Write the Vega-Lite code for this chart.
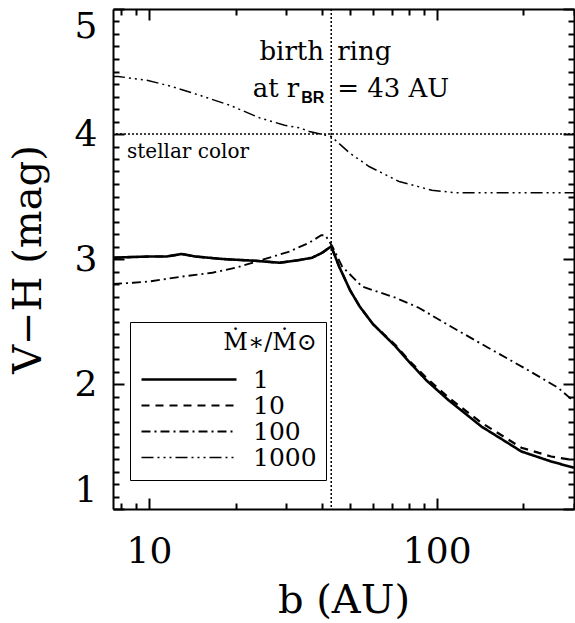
{
  "$schema": "https://vega.github.io/schema/vega-lite/v6.json",
  "width": 461,
  "height": 500,
  "autosize": {"type": "none"},
  "padding": {"left": 113, "top": 9, "right": 1, "bottom": 114},
  "background": "white",
  "config": {"view": {"stroke": null}, "axis": {"grid": false}},
  "resolve": {"axis": {"x": "independent", "y": "independent"}},
  "layer": [
    {
      "data": {"values": [
        {"b": 7.5, "vh": 3.01, "s": "1"}, {"b": 8.5, "vh": 3.015, "s": "1"}, {"b": 10.1, "vh": 3.02, "s": "1"}, {"b": 11.5, "vh": 3.02, "s": "1"}, {"b": 13.0, "vh": 3.04, "s": "1"}, {"b": 14.5, "vh": 3.02, "s": "1"}, {"b": 18.0, "vh": 3.0, "s": "1"}, {"b": 23.7, "vh": 2.985, "s": "1"}, {"b": 28.4, "vh": 2.97, "s": "1"}, {"b": 33.0, "vh": 2.99, "s": "1"}, {"b": 36.9, "vh": 3.01, "s": "1"}, {"b": 40.0, "vh": 3.05, "s": "1"}, {"b": 42.3, "vh": 3.09, "s": "1"}, {"b": 43.0, "vh": 3.1, "s": "1"}, {"b": 45.8, "vh": 2.94, "s": "1"}, {"b": 50.0, "vh": 2.75, "s": "1"}, {"b": 54.0, "vh": 2.62, "s": "1"}, {"b": 60.0, "vh": 2.48, "s": "1"}, {"b": 72.0, "vh": 2.3, "s": "1"}, {"b": 80.0, "vh": 2.18, "s": "1"}, {"b": 92.0, "vh": 2.03, "s": "1"}, {"b": 110.0, "vh": 1.87, "s": "1"}, {"b": 143.0, "vh": 1.66, "s": "1"}, {"b": 197.0, "vh": 1.46, "s": "1"}, {"b": 250.0, "vh": 1.38, "s": "1"}, {"b": 300.0, "vh": 1.33, "s": "1"},
        {"b": 7.5, "vh": 3.01, "s": "10"}, {"b": 8.5, "vh": 3.015, "s": "10"}, {"b": 10.1, "vh": 3.02, "s": "10"}, {"b": 11.5, "vh": 3.02, "s": "10"}, {"b": 13.0, "vh": 3.04, "s": "10"}, {"b": 14.5, "vh": 3.02, "s": "10"}, {"b": 18.0, "vh": 3.0, "s": "10"}, {"b": 23.7, "vh": 2.985, "s": "10"}, {"b": 28.4, "vh": 2.97, "s": "10"}, {"b": 33.0, "vh": 2.99, "s": "10"}, {"b": 36.9, "vh": 3.01, "s": "10"}, {"b": 40.0, "vh": 3.05, "s": "10"}, {"b": 42.3, "vh": 3.09, "s": "10"}, {"b": 43.0, "vh": 3.1, "s": "10"}, {"b": 45.8, "vh": 2.94, "s": "10"}, {"b": 50.0, "vh": 2.75, "s": "10"}, {"b": 54.0, "vh": 2.62, "s": "10"}, {"b": 60.0, "vh": 2.48, "s": "10"}, {"b": 72.0, "vh": 2.31, "s": "10"}, {"b": 80.0, "vh": 2.19, "s": "10"}, {"b": 92.0, "vh": 2.05, "s": "10"}, {"b": 110.0, "vh": 1.89, "s": "10"}, {"b": 143.0, "vh": 1.69, "s": "10"}, {"b": 197.0, "vh": 1.49, "s": "10"}, {"b": 250.0, "vh": 1.42, "s": "10"}, {"b": 300.0, "vh": 1.39, "s": "10"},
        {"b": 7.5, "vh": 2.8, "s": "100"}, {"b": 8.8, "vh": 2.81, "s": "100"}, {"b": 10.0, "vh": 2.82, "s": "100"}, {"b": 13.1, "vh": 2.86, "s": "100"}, {"b": 16.6, "vh": 2.89, "s": "100"}, {"b": 20.0, "vh": 2.93, "s": "100"}, {"b": 23.7, "vh": 2.98, "s": "100"}, {"b": 30.8, "vh": 3.06, "s": "100"}, {"b": 36.0, "vh": 3.13, "s": "100"}, {"b": 39.7, "vh": 3.19, "s": "100"}, {"b": 41.0, "vh": 3.19, "s": "100"}, {"b": 43.4, "vh": 3.1, "s": "100"}, {"b": 46.9, "vh": 2.94, "s": "100"}, {"b": 55.0, "vh": 2.78, "s": "100"}, {"b": 72.0, "vh": 2.69, "s": "100"}, {"b": 86.6, "vh": 2.61, "s": "100"}, {"b": 110.0, "vh": 2.47, "s": "100"}, {"b": 151.0, "vh": 2.29, "s": "100"}, {"b": 208.0, "vh": 2.11, "s": "100"}, {"b": 264.0, "vh": 1.97, "s": "100"}, {"b": 300.0, "vh": 1.86, "s": "100"},
        {"b": 7.5, "vh": 4.46, "s": "1000"}, {"b": 7.82, "vh": 4.46, "s": "1000"}, {"b": 9.84, "vh": 4.43, "s": "1000"}, {"b": 12.0, "vh": 4.38, "s": "1000"}, {"b": 15.0, "vh": 4.31, "s": "1000"}, {"b": 19.1, "vh": 4.23, "s": "1000"}, {"b": 24.2, "vh": 4.13, "s": "1000"}, {"b": 29.6, "vh": 4.07, "s": "1000"}, {"b": 33.3, "vh": 4.05, "s": "1000"}, {"b": 36.1, "vh": 4.02, "s": "1000"}, {"b": 43.0, "vh": 3.98, "s": "1000"}, {"b": 49.7, "vh": 3.85, "s": "1000"}, {"b": 58.2, "vh": 3.74, "s": "1000"}, {"b": 74.0, "vh": 3.62, "s": "1000"}, {"b": 96.2, "vh": 3.55, "s": "1000"}, {"b": 116.0, "vh": 3.53, "s": "1000"}, {"b": 148.0, "vh": 3.53, "s": "1000"}, {"b": 192.0, "vh": 3.53, "s": "1000"}, {"b": 300.0, "vh": 3.53, "s": "1000"}
      ]},
      "mark": {"type": "line", "color": "black", "clip": true},
      "encoding": {
        "x": {
          "field": "b", "type": "quantitative",
          "scale": {"type": "log", "domain": [7.5, 300], "nice": false},
          "axis": {
            "orient": "bottom",
            "values": [8, 9, 10, 20, 30, 40, 50, 60, 70, 80, 90, 100, 200, 300],
            "format": "d",
            "labelExpr": "datum.value == 10 || datum.value == 100 ? datum.label : ''",
            "labelOverlap": false,
            "tickSize": {"condition": {"test": "datum.value == 10 || datum.value == 100", "value": -11}, "value": -6},
            "tickColor": "black", "tickWidth": 2,
            "domainColor": "black", "domainWidth": 2,
            "labelFont": "DejaVu Serif", "labelFontSize": 36, "labelColor": "black",
            "labelPadding": 36,
            "title": "b (AU)", "titleFont": "DejaVu Serif", "titleFontSize": 40, "titleFontWeight": "normal", "titleColor": "black",
            "titlePadding": 6
          }
        },
        "y": {
          "field": "vh", "type": "quantitative",
          "scale": {"domain": [1, 5], "nice": false, "zero": false},
          "axis": {
            "orient": "left",
            "values": [1, 1.1, 1.2, 1.3, 1.4, 1.5, 1.6, 1.7, 1.8, 1.9, 2, 2.1, 2.2, 2.3, 2.4, 2.5, 2.6, 2.7, 2.8, 2.9, 3, 3.1, 3.2, 3.3, 3.4, 3.5, 3.6, 3.7, 3.8, 3.9, 4, 4.1, 4.2, 4.3, 4.4, 4.5, 4.6, 4.7, 4.8, 4.9, 5],
            "format": ".1f",
            "labelExpr": "abs(datum.value - round(datum.value)) < 0.01 ? '' + round(datum.value) : ''",
            "labelOverlap": false,
            "labelBaseline": {"condition": [{"test": "datum.value > 4.95", "value": "top"}, {"test": "datum.value < 1.05", "value": "bottom"}], "value": "middle"},
            "tickSize": {"condition": {"test": "abs(datum.value - round(datum.value)) < 0.01", "value": -11}, "value": -6},
            "tickColor": "black", "tickWidth": 2,
            "domainColor": "black", "domainWidth": 2,
            "labelFont": "DejaVu Serif", "labelFontSize": 36, "labelColor": "black",
            "labelPadding": 27,
            "title": "V−H (mag)", "titleFont": "DejaVu Serif", "titleFontSize": 40, "titleFontWeight": "normal", "titleColor": "black",
            "titlePadding": 26
          }
        },
        "strokeDash": {
          "field": "s", "type": "nominal",
          "scale": {"domain": ["1", "10", "100", "1000"], "range": [[1, 0], [8, 6], [9, 4, 2, 4], [12, 4, 2, 4, 2, 4, 2, 4]]},
          "legend": {
            "orient": "none", "legendX": 17, "legendY": 313,
            "title": "Ṁ∗/Ṁ⊙", "titleFont": "DejaVu Serif", "titleFontSize": 24, "titleFontWeight": "normal", "titleColor": "black", "titleAnchor": "end",
            "labelFont": "DejaVu Serif", "labelFontSize": 25, "labelColor": "black", "labelOffset": 89,
            "symbolType": "M-1,0H8.5", "symbolSize": 400, "symbolStrokeColor": "black",
            "strokeColor": "black", "padding": 9, "rowPadding": -1, "titlePadding": 12
          }
        },
        "strokeWidth": {
          "field": "s", "type": "nominal",
          "scale": {"domain": ["1", "10", "100", "1000"], "range": [2.6, 1.5, 1.5, 1.5]},
          "legend": {
            "orient": "none", "legendX": 17, "legendY": 313,
            "title": "Ṁ∗/Ṁ⊙", "titleFont": "DejaVu Serif", "titleFontSize": 24, "titleFontWeight": "normal", "titleColor": "black", "titleAnchor": "end",
            "labelFont": "DejaVu Serif", "labelFontSize": 25, "labelColor": "black", "labelOffset": 89,
            "symbolType": "M-1,0H8.5", "symbolSize": 400, "symbolStrokeColor": "black",
            "strokeColor": "black", "padding": 9, "rowPadding": -1, "titlePadding": 12
          }
        }
      }
    },
    {
      "data": {"values": [{"b": 43}]},
      "mark": {"type": "rule", "color": "black", "strokeWidth": 1.5, "strokeDash": [2, 2]},
      "encoding": {
        "x": {
          "field": "b", "type": "quantitative",
          "scale": {"type": "log", "domain": [7.5, 300], "nice": false},
          "axis": {
            "orient": "top",
            "values": [8, 9, 10, 20, 30, 40, 50, 60, 70, 80, 90, 100, 200, 300],
            "labels": false, "title": null,
            "tickSize": {"condition": {"test": "datum.value == 10 || datum.value == 100", "value": -11}, "value": -6},
            "tickColor": "black", "tickWidth": 2,
            "domainColor": "black", "domainWidth": 2
          }
        }
      }
    },
    {
      "data": {"values": [{"vh": 4}]},
      "mark": {"type": "rule", "color": "black", "strokeWidth": 1.5, "strokeDash": [2, 2]},
      "encoding": {
        "y": {
          "field": "vh", "type": "quantitative",
          "scale": {"domain": [1, 5], "nice": false, "zero": false},
          "axis": {
            "orient": "right",
            "values": [1, 1.1, 1.2, 1.3, 1.4, 1.5, 1.6, 1.7, 1.8, 1.9, 2, 2.1, 2.2, 2.3, 2.4, 2.5, 2.6, 2.7, 2.8, 2.9, 3, 3.1, 3.2, 3.3, 3.4, 3.5, 3.6, 3.7, 3.8, 3.9, 4, 4.1, 4.2, 4.3, 4.4, 4.5, 4.6, 4.7, 4.8, 4.9, 5],
            "labels": false, "title": null,
            "tickSize": {"condition": {"test": "abs(datum.value - round(datum.value)) < 0.01", "value": -11}, "value": -6},
            "tickColor": "black", "tickWidth": 2,
            "domainColor": "black", "domainWidth": 2
          }
        }
      }
    },
    {
      "data": {"values": [{"b": 40.6, "vh": 4.592, "t": "birth"}, {"b": 33.3, "vh": 4.296, "t": "at r"}]},
      "mark": {"type": "text", "align": "right", "baseline": "alphabetic", "font": "DejaVu Serif", "fontSize": 26, "color": "black"},
      "encoding": {
        "x": {"field": "b", "type": "quantitative", "scale": {"type": "log", "domain": [7.5, 300], "nice": false}, "axis": null},
        "y": {"field": "vh", "type": "quantitative", "scale": {"domain": [1, 5], "nice": false, "zero": false}, "axis": null},
        "text": {"field": "t"}
      }
    },
    {
      "data": {"values": [{"b": 45.1, "vh": 4.592, "t": "ring"}, {"b": 45.1, "vh": 4.296, "t": "= 43 AU"}]},
      "mark": {"type": "text", "align": "left", "baseline": "alphabetic", "font": "DejaVu Serif", "fontSize": 26, "color": "black"},
      "encoding": {
        "x": {"field": "b", "type": "quantitative", "scale": {"type": "log", "domain": [7.5, 300], "nice": false}, "axis": null},
        "y": {"field": "vh", "type": "quantitative", "scale": {"domain": [1, 5], "nice": false, "zero": false}, "axis": null},
        "text": {"field": "t"}
      }
    },
    {
      "data": {"values": [{"b": 33.8, "vh": 4.248, "t": "BR"}]},
      "mark": {"type": "text", "align": "left", "baseline": "alphabetic", "font": "Liberation Sans", "fontWeight": "bold", "fontSize": 16, "color": "black"},
      "encoding": {
        "x": {"field": "b", "type": "quantitative", "scale": {"type": "log", "domain": [7.5, 300], "nice": false}, "axis": null},
        "y": {"field": "vh", "type": "quantitative", "scale": {"domain": [1, 5], "nice": false, "zero": false}, "axis": null},
        "text": {"field": "t"}
      }
    },
    {
      "data": {"values": [{"b": 8.39, "vh": 3.808, "t": "stellar color"}]},
      "mark": {"type": "text", "align": "left", "baseline": "alphabetic", "font": "DejaVu Serif", "fontSize": 20, "color": "black"},
      "encoding": {
        "x": {"field": "b", "type": "quantitative", "scale": {"type": "log", "domain": [7.5, 300], "nice": false}, "axis": null},
        "y": {"field": "vh", "type": "quantitative", "scale": {"domain": [1, 5], "nice": false, "zero": false}, "axis": null},
        "text": {"field": "t"}
      }
    }
  ]
}
